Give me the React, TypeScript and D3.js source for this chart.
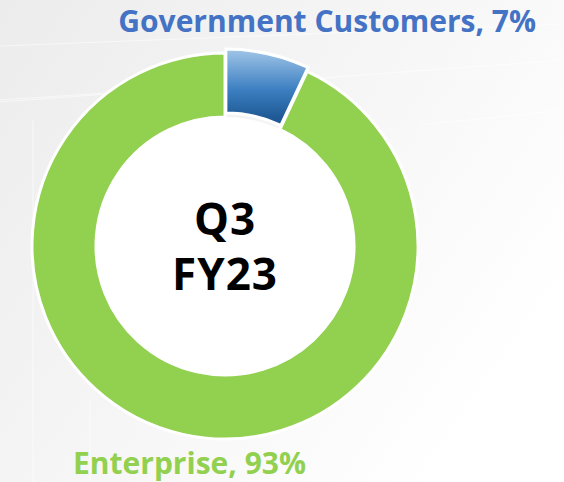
import React, { useMemo } from 'react';
import * as d3 from 'd3';

const WIDTH = 564;
const HEIGHT = 482;
const CENTER = { x: 225, y: 246 };
const OUTER_R = 193;
const INNER_R = 129;
const EXPLODE = 4;

const SEGMENTS = ['Government Customers', 'Enterprise'];
const SHARES = [7, 93];
const CENTER_LINES = ['Q3', 'FY23'];

const FONT = '"Open Sans", "Noto Sans", sans-serif';

export default function App() {
  const arcs = useMemo(() => {
    const pie = d3
      .pie<number>()
      .sort(null)
      .value((d) => d);
    const arc = d3
      .arc<d3.PieArcDatum<number>>()
      .innerRadius(INNER_R)
      .outerRadius(OUTER_R);
    return pie(SHARES).map((a, i) => {
      const mid = (a.startAngle + a.endAngle) / 2;
      const off = i === 0 ? EXPLODE : 0;
      return {
        key: SEGMENTS[i],
        d: arc(a) ?? '',
        dx: Math.sin(mid) * off,
        dy: -Math.cos(mid) * off,
      };
    });
  }, []);

  return (
    <div style={{ position: 'fixed', left: 0, top: 0 }}>
      <svg width={WIDTH} height={HEIGHT} viewBox={`0 0 ${WIDTH} ${HEIGHT}`} style={{ display: 'block' }}>
        <defs>
          <linearGradient id="bg" x1="0" y1="0" x2="1" y2="0.6">
            <stop offset="0" stopColor="#ececec" />
            <stop offset="0.55" stopColor="#f6f6f6" />
            <stop offset="1" stopColor="#ffffff" />
          </linearGradient>
          <linearGradient id="blue" gradientUnits="userSpaceOnUse" x1="0" y1={-OUTER_R} x2="0" y2={-INNER_R + 4}>
            <stop offset="0" stopColor="#a2c6e8" />
            <stop offset="0.6" stopColor="#3c7fc1" />
            <stop offset="1" stopColor="#1f5a96" />
          </linearGradient>
        </defs>
        <rect width={WIDTH} height={HEIGHT} fill="url(#bg)" />
        <g stroke="#ffffff" strokeOpacity={0.55} strokeWidth={1.2} fill="none">
          <line x1={0} y1={46} x2={564} y2={24} />
          <line x1={0} y1={102} x2={564} y2={60} />
          <line x1={420} y1={125} x2={564} y2={110} />
          <line x1={0} y1={100} x2={120} y2={92} />
          <line x1={33} y1={120} x2={33} y2={482} />
          <line x1={90} y1={400} x2={90} y2={482} />
        </g>
        <g transform={`translate(${CENTER.x},${CENTER.y})`}>
          <circle r={INNER_R} fill="#ffffff" />
          {arcs.map((a, i) => (
            <path
              key={a.key}
              d={a.d}
              transform={`translate(${a.dx},${a.dy})`}
              fill={i === 0 ? 'url(#blue)' : '#92d050'}
              stroke="#ffffff"
              strokeWidth={3}
              strokeLinejoin="miter"
            />
          ))}
          <text
            textAnchor="middle"
            fontFamily={FONT}
            fontWeight={700}
            fontSize={44}
            letterSpacing={1}
            fill="#000000"
          >
            <tspan x={0} y={-11}>{CENTER_LINES[0]}</tspan>
            <tspan x={0} y={44}>{CENTER_LINES[1]}</tspan>
          </text>
        </g>
        <text x={536} y={32} textAnchor="end" fontFamily={FONT} fontWeight={700} fontSize={30} fill="#4472c4">
          {`${SEGMENTS[0]}, ${SHARES[0]}%`}
        </text>
        <text x={73} y={474} fontFamily={FONT} fontWeight={700} fontSize={30} fill="#92d050">
          {`${SEGMENTS[1]}, ${SHARES[1]}%`}
        </text>
      </svg>
    </div>
  );
}
